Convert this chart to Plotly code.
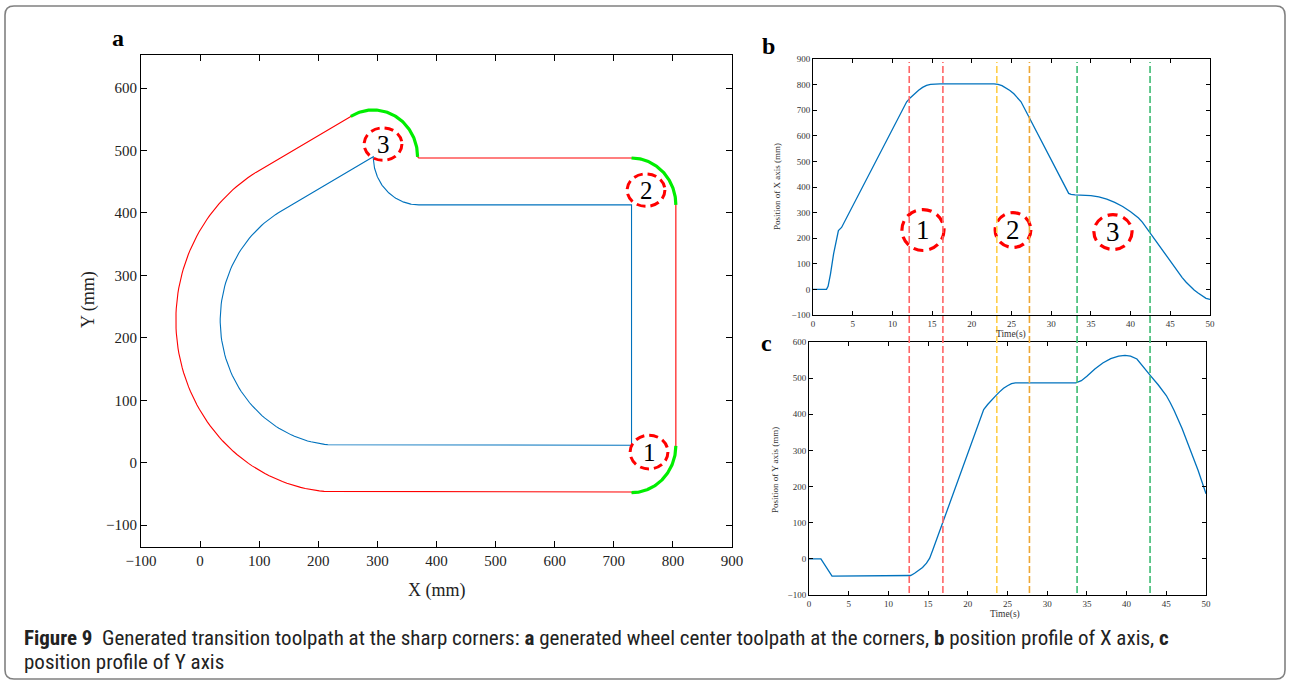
import numpy as np
import plotly.graph_objects as go

W, H = 1290, 684

# ---------------- Panel a: toolpath geometry (mm) ----------------
# segment = ("L", x0, y0, x1, y1)  or  ("A", cx, cy, radius, start_deg, end_deg)
blue_path = [
    ("L", 730, 28, 234, 28),
    ("A", 234, 228, 200, 270, 120.5),
    ("L", 132.5, 400.3, 293, 490),
    ("A", 370, 490, 77, 180, 270),
    ("L", 370, 413, 730, 413),
    ("L", 730, 413, 730, 28),
]
red_path = [
    ("L", 730, -47, 234, -47),
    ("A", 234, 228, 275, 270, 120.5),
    ("L", 94.4, 464.9, 255, 554.6),
    ("A", 293, 490, 75, 120.5, 0),
    ("L", 368, 490, 370, 488),
    ("L", 370, 488, 730, 488),
    ("A", 730, 413, 75, 90, 0),
    ("L", 805, 413, 805, 27),
    ("A", 730, 27, 75, 0, -90),
]
green_arcs = [
    ("A", 293, 490, 75, 120.5, 0),
    ("A", 730, 413, 75, 90, 0),
    ("A", 730, 27, 75, 0, -90),
]
a_mark_x = [759.6, 754.5, 309.5]
a_mark_y = [17.0, 436.6, 510.3]
a_mark_rx = [32, 32, 32]
a_mark_ry = [27, 26, 26]
a_mark_txt = ["1", "2", "3"]

# ---------------- Panel b: X axis position vs time ----------------
t_b = [0, 1.7, 1.9, 2.2, 2.6, 3.0, 3.2, 3.6, 11.8, 12.3, 12.8, 13.3, 13.8, 14.3, 14.8, 15.3,
       16.0, 22.8, 23.3, 23.8, 24.3, 24.8, 25.3, 25.8, 26.2, 32.2, 32.5, 33.0, 34.0, 35.0,
       36.0, 37.0, 38.0, 39.0, 40.0, 41.0, 41.5, 42.0, 43.0, 44.0, 45.0, 46.0, 46.5, 47.0,
       47.5, 48.0, 48.5, 49.0, 49.5, 50]
x_b = [0, 0, 12, 60, 140, 210, 230, 242, 733, 750, 765, 778, 789, 797, 801, 803,
       803, 803, 801, 796, 788, 777, 764, 748, 733, 375, 371, 369, 368, 366,
       361, 353, 340, 324, 303, 279, 262, 240, 196, 152, 108, 66, 46, 28,
       12, -2, -14, -26, -35, -39]

# ---------------- Panel c: Y axis position vs time ----------------
t_c = [0, 1.5, 2.9, 12.3, 12.8, 13.3, 13.8, 14.3, 14.8, 15.2, 15.6, 22.0, 22.5, 23.0, 23.5,
       24.0, 24.5, 25.0, 25.5, 26.0, 33.6, 34.3, 35.0, 36.0, 37.0, 38.0, 39.0, 39.8, 40.5,
       41.3, 42.0, 43.0, 44.0, 45.0, 45.5, 46.0, 47.0, 48.0, 49.0, 50.0]
y_c = [0, 0, -48, -48, -46, -40, -33, -24, -12, 2, 25, 413, 427, 440, 451,
       462, 472, 479, 485, 487, 487, 493, 505, 525, 542, 554, 561, 563, 561,
       553, 533, 507, 481, 452, 432, 410, 360, 305, 245, 180]

# transition windows (time, s) drawn across panels b and c
win_t = [12.12, 16.36, 23.15, 27.26, 33.26, 42.45]
win_col = ["#ff6666", "#ff6666", "#ffcf4a", "#eea734", "#3dbb72", "#3dbb72"]

b_mark_t = [13.85, 25.19, 37.78]
b_mark_y = [232, 232, 224]
b_mark_rt = [2.65, 2.25, 2.4]
b_mark_ry = [80, 68, 68]
b_mark_txt = ["1", "2", "3"]


def expand(segs, n=90, sep=False):
    xs, ys = [], []
    for s in segs:
        if s[0] == "L":
            xs += [s[1], s[3]]
            ys += [s[2], s[4]]
        else:
            _, cx, cy, r, a0, a1 = s
            a = np.radians(np.linspace(a0, a1, n))
            xs += list(cx + r * np.cos(a))
            ys += list(cy + r * np.sin(a))
        if sep:
            xs.append(None)
            ys.append(None)
    return xs, ys


def px(x):
    return x / W


def py(y):
    return 1 - y / H


SERIF = "Liberation Serif, Times New Roman, serif"

fig = go.Figure()

bx, by = expand(blue_path)
rx, ry = expand(red_path)
gx, gy = expand(green_arcs, sep=True)
fig.add_trace(go.Scatter(x=rx, y=ry, mode="lines", line=dict(color="#ff0000", width=1.1),
                         xaxis="x", yaxis="y", hoverinfo="skip"))
fig.add_trace(go.Scatter(x=bx, y=by, mode="lines", line=dict(color="#0072bd", width=1.1),
                         xaxis="x", yaxis="y", hoverinfo="skip"))
fig.add_trace(go.Scatter(x=gx, y=gy, mode="lines", line=dict(color="#00ee00", width=3.2),
                         xaxis="x", yaxis="y", hoverinfo="skip"))

fig.add_trace(go.Scatter(x=t_b, y=x_b, mode="lines", line=dict(color="#0072bd", width=1.3),
                         xaxis="x2", yaxis="y2"))
fig.add_trace(go.Scatter(x=t_c, y=y_c, mode="lines", line=dict(color="#0072bd", width=1.3),
                         xaxis="x3", yaxis="y3"))

shapes = []
annos = []
C = dict(xanchor="center", yanchor="middle", showarrow=False)
# dashed ellipses + numbers, panel a
for x, y, a, b, s in zip(a_mark_x, a_mark_y, a_mark_rx, a_mark_ry, a_mark_txt):
    shapes.append(dict(type="circle", xref="x", yref="y", x0=x - a, x1=x + a, y0=y - b, y1=y + b,
                       line=dict(color="#ff0000", width=3, dash="9px,5px")))
    annos.append(dict(C, x=x, y=y, xref="x", yref="y", text=s,
                      font=dict(family=SERIF, size=25, color="#000")))
# dashed ellipses + numbers, panel b
for x, y, a, b, s in zip(b_mark_t, b_mark_y, b_mark_rt, b_mark_ry, b_mark_txt):
    shapes.append(dict(type="circle", xref="x2", yref="y2", x0=x - a, x1=x + a, y0=y - b, y1=y + b,
                       line=dict(color="#ff0000", width=3.2, dash="10px,6px")))
    annos.append(dict(C, x=x, y=y, xref="x2", yref="y2", text=s,
                      font=dict(family=SERIF, size=27, color="#000")))
# transition windows
for t, c in zip(win_t, win_col):
    shapes.append(dict(type="line", xref="x2", yref="paper", x0=t, x1=t, y0=py(593), y1=py(62),
                       line=dict(color=c, width=1.6, dash="7px,3px")))

# frame around figure
x0, x1, y0, y1, r = 5, 1285, 6, 679, 9
path = (f"M {px(x0+r)},{py(y0)} L {px(x1-r)},{py(y0)} Q {px(x1)},{py(y0)} {px(x1)},{py(y0+r)} "
        f"L {px(x1)},{py(y1-r)} Q {px(x1)},{py(y1)} {px(x1-r)},{py(y1)} "
        f"L {px(x0+r)},{py(y1)} Q {px(x0)},{py(y1)} {px(x0)},{py(y1-r)} "
        f"L {px(x0)},{py(y0+r)} Q {px(x0)},{py(y0)} {px(x0+r)},{py(y0)} Z")
shapes.append(dict(type="path", xref="paper", yref="paper", path=path,
                   line=dict(color="#808080", width=1.6), layer="below"))

# panel labels
for lab, xx, yy in [("a", 118, 38), ("b", 768, 46), ("c", 766, 343)]:
    annos.append(dict(C, x=px(xx), y=py(yy), xref="paper", yref="paper", text=f"<b>{lab}</b>",
                      font=dict(family=SERIF, size=24, color="#000")))
# axis titles
annos += [
    dict(C, x=px(437), y=py(590), xref="paper", yref="paper", text="X (mm)",
         font=dict(family=SERIF, size=18, color="#222")),
    dict(C, x=px(88), y=py(300), xref="paper", yref="paper", text="Y (mm)",
         textangle=-90, font=dict(family=SERIF, size=18, color="#222")),
    dict(C, x=px(1011), y=py(335), xref="paper", yref="paper", text="Time(s)",
         font=dict(family=SERIF, size=9.5, color="#333")),
    dict(C, x=px(1005), y=py(614), xref="paper", yref="paper", text="Time(s)",
         font=dict(family=SERIF, size=9.5, color="#333")),
    dict(C, x=px(777), y=py(187), xref="paper", yref="paper", text="Position of X axis (mm)",
         textangle=-90, font=dict(family=SERIF, size=9, color="#333")),
    dict(C, x=px(775), y=py(470), xref="paper", yref="paper", text="Position of Y axis (mm)",
         textangle=-90, font=dict(family=SERIF, size=9, color="#333")),
]
# caption
CAP = "Liberation Sans Narrow, Roboto Condensed, Arial Narrow, Noto Sans, sans-serif"
annos += [
    dict(x=px(22), y=py(638), xref="paper", yref="paper", xanchor="left", yanchor="middle",
         showarrow=False,
         text="<b>Figure 9</b>\u00a0\u00a0Generated transition toolpath at the sharp corners: <b>a</b> generated wheel "
              "center toolpath at the corners, <b>b</b> position profile of X axis, <b>c</b>",
         font=dict(family=CAP, size=21, color="#222")),
    dict(x=px(22), y=py(662), xref="paper", yref="paper", xanchor="left", yanchor="middle",
         showarrow=False,
         text="position profile of Y axis", font=dict(family=CAP, size=21, color="#222")),
]

ax_common = dict(showline=True, linecolor="#000", linewidth=1, mirror="allticks", ticks="inside",
                 showgrid=False, zeroline=False, tickcolor="#000", automargin=False)
small = dict(ax_common, ticklen=4, tickfont=dict(family=SERIF, size=9, color="#333"))
big = dict(ax_common, ticklen=6, tickfont=dict(family=SERIF, size=15, color="#222"))

fig.update_layout(
    width=W, height=H, margin=dict(l=0, r=0, t=0, b=0, autoexpand=False),
    paper_bgcolor="white", plot_bgcolor="white", showlegend=False,
    xaxis=dict(big, domain=[px(141), px(732)], range=[-100, 900], dtick=100, anchor="y"),
    yaxis=dict(big, domain=[py(547), py(55)], range=[-135, 653], tickvals=list(range(-100, 601, 100)),
               anchor="x"),
    xaxis2=dict(small, domain=[px(813), px(1210)], range=[0, 50], dtick=5, anchor="y2"),
    yaxis2=dict(small, domain=[py(315), py(59)], range=[-100, 900], dtick=100, anchor="x2"),
    xaxis3=dict(small, domain=[px(809), px(1206)], range=[0, 50], dtick=5, anchor="y3"),
    yaxis3=dict(small, domain=[py(595), py(342)], range=[-100, 600], dtick=100, anchor="x3"),
    shapes=shapes, annotations=annos,
)

fig.write_html("out.html", config={"displayModeBar": False},
               post_script="document.body.style.margin='0';document.body.style.overflow='hidden';")
